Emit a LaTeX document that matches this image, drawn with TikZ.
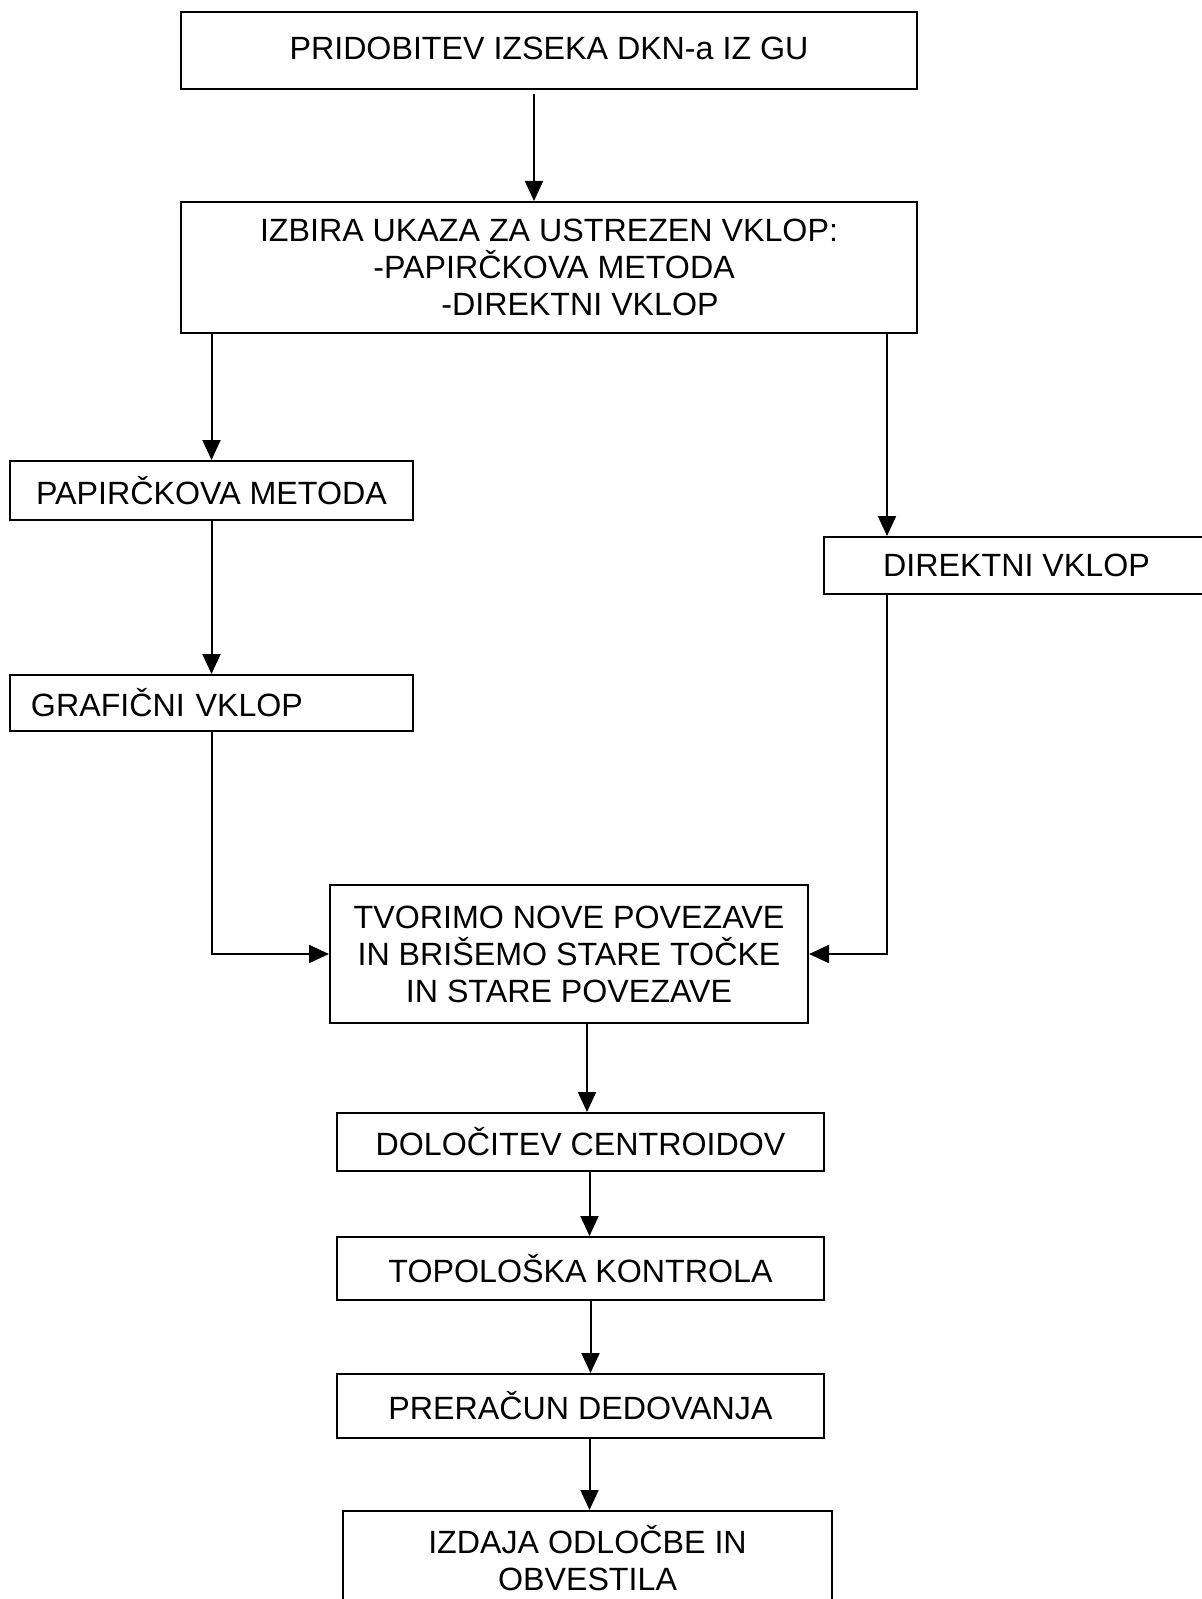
\documentclass[tikz,border=0pt]{standalone}
\usepackage{fontspec}
\setmainfont{Liberation Sans}
\usetikzlibrary{arrows.meta,positioning}

\tikzset{
  box/.style={draw, line width=1pt, rectangle, inner sep=0pt, align=center,
    font=\fontsize{16.1}{18.5}\selectfont},
  arr/.style={line width=1pt, -{Triangle[length=10pt,width=9pt]}}
}

\begin{document}
\begin{tikzpicture}[x=0.5pt, y=-0.5pt]
    \useasboundingbox (0,0) rectangle (1201,1599);

    % top part
    \node[box, minimum width=368pt, minimum height=38.5pt] (izsek) at (549,50.5) {\raisebox{2.5pt}{PRIDOBITEV IZSEKA DKN-a IZ GU}};
    \node[box, minimum width=368pt, minimum height=65.5pt] (izbira) at (549,267.5)
        {IZBIRA UKAZA ZA USTREZEN VKLOP:\\ \hspace*{5pt}-PAPIRČKOVA METODA\\ \hspace*{31pt}-DIREKTNI VKLOP};

    % left branch
    \node[box, minimum width=201.5pt, minimum height=29.5pt] (papir) at (211.5,490.5) {PAPIRČKOVA METODA};
    \node[box, text width=180.5pt, inner xsep=10.5pt, align=left, minimum height=28pt] (grafik) at (211.5,703) {GRAFIČNI VKLOP};

    % right branch
    \node[box, minimum width=192.5pt, minimum height=28.5pt] (direkt) at (1016.5,565.5) {DIREKTNI VKLOP};
    \coordinate (dk) at ([xshift=32pt]direkt.north west);

    % bottom part
    \node[box, minimum width=239pt, minimum height=69pt] (tvor) at (569,954)
        {TVORIMO NOVE POVEZAVE\\IN BRIŠEMO STARE TOČKE\\IN STARE POVEZAVE};
    \node[box, minimum width=243.5pt, minimum height=29pt] (dolo) at (580.5,1142) {DOLOČITEV CENTROIDOV};
    \node[box, minimum width=243.5pt, minimum height=31.5pt] (topo) at (580.5,1268.5) {TOPOLOŠKA KONTROLA};
    \node[box, minimum width=243.5pt, minimum height=32pt] (prer) at (580.5,1406) {PRERAČUN DEDOVANJA};
    \node[box, minimum width=244.5pt, minimum height=47.5pt] (izdaja) at (587.5,1558.5) {IZDAJA ODLOČBE IN\\OBVESTILA};

    % connectors
    \draw[arr, shorten <=2pt] ([xshift=-7.5pt]izsek.south) -- ([xshift=-7.5pt]izsek.south |- izbira.north);
    \draw[arr] (izbira.south -| papir.north) -- (papir.north);
    \draw[arr] (papir) -- (grafik);
    \draw[arr] (grafik.south) |- (tvor.west);
    \draw[arr] (izbira.south -| dk) -- (dk);
    \draw[arr] ([xshift=32pt]direkt.south west) |- (tvor.east);
    \draw[arr] ([xshift=9pt]tvor.south) -- ([xshift=9pt]tvor.south |- dolo.north);
    \draw[arr] ([xshift=4.5pt]dolo.south) -- ([xshift=4.5pt]topo.north);
    \draw[arr] ([xshift=5pt]topo.south) -- ([xshift=5pt]prer.north);
    \draw[arr] ([xshift=4.5pt]prer.south) -- ([xshift=4.5pt]prer.south |- izdaja.north);
\end{tikzpicture}
\end{document}
